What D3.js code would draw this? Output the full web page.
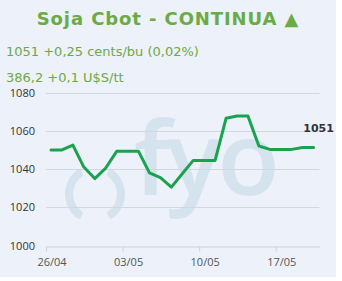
<!DOCTYPE html>
<html>
<head>
<meta charset="utf-8">
<script src="https://cdn.jsdelivr.net/npm/d3@7"></script>
<style>
  body { margin: 0; background: #ffffff; }
  svg { display: block; }
</style>
</head>
<body>
<svg id="chart" width="342" height="281"></svg>
<script>
// data
var dates = ["2021-04-26", "2021-04-27", "2021-04-28", "2021-04-29", "2021-04-30",
	"2021-05-01", "2021-05-02", "2021-05-03", "2021-05-04", "2021-05-05",
	"2021-05-06", "2021-05-07", "2021-05-08", "2021-05-09", "2021-05-10",
	"2021-05-11", "2021-05-12", "2021-05-13", "2021-05-14", "2021-05-15",
	"2021-05-16", "2021-05-17", "2021-05-18", "2021-05-19", "2021-05-20"];
var prices = [1050, 1050, 1052.5, 1041, 1035,
	1040.5, 1049.25, 1049.25, 1049.25, 1038,
	1035.5, 1030.5, 1037.5, 1044.5, 1044.5,
	1044.5, 1066.5, 1067.75, 1067.75, 1052,
	1050.25, 1050.25, 1050.25, 1051.25, 1051.25];
var xTicks = ["2021-04-26", "2021-05-03", "2021-05-10", "2021-05-17"];
var yTicks = [1000, 1020, 1040, 1060, 1080];
var titleText = "Soja Cbot - CONTINUA \u25B2";
var subLines = ["1051 +0,25 cents/bu (0,02%)", "386,2 +0,1 U$S/tt"];
var lastLabel = "1051";

var svg = d3.select("#chart");
var parse = d3.utcParse("%Y-%m-%d");
var fmt = d3.utcFormat("%d/%m");

// panel background
svg.append("rect")
	.attr("x", 0).attr("y", 0)
	.attr("width", 336).attr("height", 277)
	.attr("fill", "#edf1f9");

// scales
var x = d3.scaleUtc()
	.domain([parse("2021-04-26"), parse("2021-05-21")])
	.range([46, 319.5]);
var y = d3.scaleLinear()
	.domain([1000, 1080])
	.range([245.5, 92.5]);

// watermark logo
var wm = svg.append("g").attr("fill", "#d5e3ee");
var paren = d3.arc().innerRadius(22).outerRadius(30).cornerRadius(2);
wm.append("path")
	.attr("transform", "translate(95,194)")
	.attr("d", paren({startAngle: -2.6, endAngle: -0.54}));
wm.append("path")
	.attr("transform", "translate(95,194)")
	.attr("d", paren({startAngle: 0.54, endAngle: 2.6}));
wm.append("text")
	.attr("x", 134).attr("y", 195)
	.attr("font-family", "Open Sans")
	.attr("font-weight", 600)
	.attr("font-size", 102)
	.attr("letter-spacing", -4)
	.text("fyo");

// gridlines
svg.append("g").selectAll("line")
	.data(yTicks.slice(1))
	.join("line")
	.attr("x1", 46).attr("x2", 319.5)
	.attr("y1", function(d) { return Math.round(y(d)) + 0.5; })
	.attr("y2", function(d) { return Math.round(y(d)) + 0.5; })
	.attr("stroke", "#d3d8e0")
	.attr("stroke-width", 1);

// y labels
svg.append("g").selectAll("text")
	.data(yTicks)
	.join("text")
	.attr("x", 35)
	.attr("y", function(d) { return y(d) + 4; })
	.attr("text-anchor", "end")
	.attr("font-family", "Open Sans")
	.attr("font-size", 11)
	.attr("fill", "#333")
	.text(function(d) { return d; });

// x axis
var xAxis = d3.axisBottom(x)
	.tickValues(xTicks.map(parse))
	.tickFormat(fmt)
	.tickSize(5)
	.tickSizeOuter(0);
var gx = svg.append("g")
	.attr("transform", "translate(0," + (Math.round(y(1000)) + 0.5) + ")")
	.call(xAxis);
gx.select(".domain").attr("stroke", "#ccd3dc");
gx.selectAll(".tick line").attr("stroke", "#ccd3dc");
gx.selectAll(".tick text")
	.attr("dx", 5.5)
	.attr("y", 12)
	.attr("font-family", "Open Sans")
	.attr("font-size", 11)
	.attr("fill", "#555");

// price line
var pts = dates.map(function(d, i) {
	return {t: d3.utcHour.offset(parse(d), 11), v: prices[i]};
});
var line = d3.line()
	.x(function(d) { return x(d.t); })
	.y(function(d) { return y(d.v); });
svg.append("path")
	.datum(pts)
	.attr("d", line)
	.attr("fill", "none")
	.attr("stroke", "#1aa34f")
	.attr("stroke-width", 3)
	.attr("stroke-linejoin", "round")
	.attr("stroke-linecap", "round");

// last value label
var last = pts[pts.length - 1];
svg.append("text")
	.attr("x", x(last.t) + 5)
	.attr("y", y(last.v) - 15)
	.attr("text-anchor", "middle")
	.attr("font-family", "DejaVu Sans")
	.attr("font-weight", "bold")
	.attr("font-size", 11)
	.attr("fill", "#333")
	.text(lastLabel);

// title and subtitles
svg.append("text")
	.attr("x", 168).attr("y", 25)
	.attr("text-anchor", "middle")
	.attr("font-family", "DejaVu Sans")
	.attr("font-weight", "bold")
	.attr("font-size", 18)
	.attr("letter-spacing", 0.9)
	.attr("fill", "#6aab45")
	.text(titleText);
svg.append("g").selectAll("text")
	.data(subLines)
	.join("text")
	.attr("x", 6)
	.attr("y", function(d, i) { return 56 + i * 26; })
	.attr("font-family", "DejaVu Sans")
	.attr("font-size", 13)
	.attr("fill", "#6fa845")
	.text(function(d) { return d; });
</script>
</body>
</html>
